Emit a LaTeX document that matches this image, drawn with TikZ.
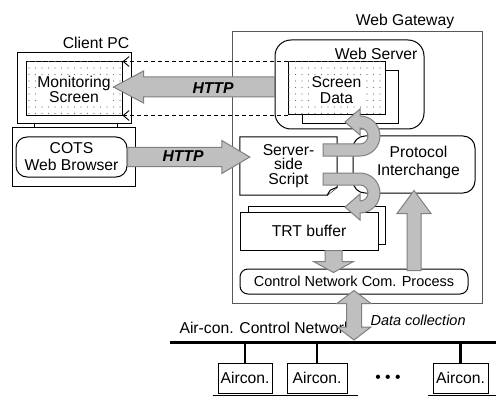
\documentclass[tikz,border=0pt]{standalone}
\usepackage{fontspec}
\setmainfont{Liberation Sans}
\usetikzlibrary{calc,arrows.meta,patterns}

\pgfdeclarepatternformonly{sparsedots}{\pgfqpoint{-1pt}{-1pt}}{\pgfqpoint{7.5pt}{7.5pt}}{\pgfqpoint{6.5pt}{6.5pt}}{%
  \pgfpathcircle{\pgfqpoint{3pt}{3pt}}{0.6pt}\pgfusepath{fill}}

% block arrow: from, to, body half width, head half width, head length
\newcommand{\fatarrow}[5]{%
  \coordinate (fahead) at ($(#2)!#5!(#1)$);
  \draw[fat] ($(#1)!#3!90:(#2)$) -- ($(fahead)!#3!-90:(#1)$) -- ($(fahead)!#4!-90:(#1)$) -- (#2)
    -- ($(fahead)!#4!90:(#1)$) -- ($(fahead)!#3!90:(#1)$) -- ($(#1)!#3!-90:(#2)$) -- cycle;
}
% block arrow with two heads
\newcommand{\fatdouble}[5]{%
  \coordinate (faheadA) at ($(#1)!#5!(#2)$);
  \coordinate (faheadB) at ($(#2)!#5!(#1)$);
  \draw[fat] (#1) -- ($(faheadA)!#4!90:(#2)$) -- ($(faheadA)!#3!90:(#2)$) -- ($(faheadB)!#3!-90:(#1)$)
    -- ($(faheadB)!#4!-90:(#1)$) -- (#2) -- ($(faheadB)!#4!90:(#1)$) -- ($(faheadB)!#3!90:(#1)$)
    -- ($(faheadA)!#3!-90:(#2)$) -- ($(faheadA)!#4!-90:(#2)$) -- cycle;
}

\begin{document}
\begin{tikzpicture}[
    x=1pt, y=-1pt,
    font=\fontsize{15.7}{16}\selectfont,
    box/.style={draw, line width=1pt, fill=white, inner sep=0pt, align=center},
    sized/.style 2 args={minimum width=#1pt, minimum height=#2pt},
    dotfill/.style={postaction={pattern=sparsedots, pattern color=black!55}},
    lbl/.style={fill=white, inner sep=0.6pt, align=center},
    fat/.style={fill=black!25, draw=black!50, line width=1pt},
    dasharrow/.style={line width=0.9pt, dash pattern=on 4pt off 3pt, -{Straight Barb[length=6pt, width=10pt]}},
    http/.style={font=\fontsize{15.7}{16}\selectfont\bfseries\itshape},
    small/.style={font=\fontsize{14.5}{15}\selectfont},
    smallit/.style={font=\fontsize{14.5}{15}\selectfont\itshape}
]
    \useasboundingbox (0,0) rectangle (496,396);

    % gateway frame
    \node[box, sized={250}{271}, draw=black!65] (gateway) at (357,167.5) {};
    \node (gwlabel) at (405,21) {Web Gateway};

    % client pc
    \node (pclabel) at (96,43) {Client PC};
    \node[box, sized={114}{71}] (monitor) at (74,88.5) {};
    \node[box, sized={96}{54}, dotfill] (monscreen) at (74,89) {};
    \node[lbl, font=\fontsize{15.7}{15}\selectfont] (montext) at (74,89.5) {Monitoring\\Screen};
    \node[box, sized={83}{4}] (neck) at (75.5,126) {};
    \node[box, sized={123}{58}] (pcbase) at (73.5,157) {};
    \node[box, sized={111}{40}, rounded corners=11pt, font=\fontsize{15.7}{17}\selectfont] (browser) at (71.5,157) {COTS\\Web Browser};

    % web server
    \node[box, sized={149}{89}, rounded corners=16pt] (webserver) at (349.5,84.5) {};
    \node[anchor=east] (wslabel) at (421,54) {Web Server};
    \node[box, sized={96}{53}] (scrback) at (350,97.5) {};
    \node[box, sized={97}{53}, dotfill] (scrdata) at (336.5,88.5) {};
    \node[lbl] (scrtext) at (336.5,90) {Screen\\Data};

    \draw[dasharrow] (scrdata.north west) -- (scrdata.north west -| monscreen.east);
    \draw[dasharrow] (scrdata.south west) -- (scrdata.south west -| monscreen.east);

    % server-side script
    \node[sized={97}{58}, align=center, font=\fontsize{15.7}{14.2}\selectfont] (script) at (288.5,166) {Server-\\side\\Script};
    \draw[line width=1pt] (script.north west) -- (script.north east) -- ([yshift=8pt]script.south east)
        -- ([xshift=-10pt]script.south east) -- (script.south west) -- cycle;
    \draw[line width=1pt, fill=white, line join=round] ([xshift=-10pt]script.south east)
        -- ([shift={(-7pt,5pt)}]script.south east) -- ([yshift=8pt]script.south east);

    % protocol interchange
    \node[box, sized={122}{57}, rounded corners=12pt] (protocol) at (414,164.5) {};
    \node[font=\fontsize{15.7}{18}\selectfont, align=center] (prottext) at (418.5,162) {Protocol\\Interchange};

    % trt buffer
    \node[box, sized={137}{38}] (trtback) at (316.5,225) {};
    \node[box, sized={138}{38}] (trt) at (309,231) {TRT buffer};

    \node[box, sized={228}{25}, rounded corners=8pt, small] (ctrl) at (354,281.5) {Control Network Com. Process};

    % control network
    \coordinate (netL) at (170,342);
    \coordinate (netR) at (496,342);
    \node[anchor=west] (netlabel) at (176,328) {Air-con. Control Network};
    \draw[line width=3pt] (netL) -- (netR);

    \node[box, sized={54}{30}] (ac1) at (245,378) {Aircon.};
    \node[box, sized={60}{30}] (ac2) at (317,378) {Aircon.};
    \node[box, sized={55}{30}] (ac3) at (460.5,378) {Aircon.};
    \node (acdots) at (388,379) {• • •};

    \draw[line width=2.5pt] (ac1.north) -- (ac1.north |- netL);
    \draw[line width=2.5pt] (ac2.north) -- (ac2.north |- netL);
    \draw[line width=2.5pt] (ac3.north) -- (ac3.north |- netL);
    \draw[line width=1pt] ([shift={(-5pt,-1.5pt)}]ac1.south west) -- ([shift={(10pt,-1.5pt)}]ac1.south east);
    \draw[line width=1pt] ([shift={(-5pt,-1.5pt)}]ac2.south west) -- ([shift={(10pt,-1.5pt)}]ac2.south east);
    \draw[line width=1pt] ([shift={(-5pt,-1.5pt)}]ac3.south west) -- ([shift={(10pt,-1.5pt)}]ac3.south east);

    % HTTP arrows
    \coordinate (srvout) at ([yshift=-2.5pt]webserver.west);
    \coordinate (scrin) at ($(monscreen.east |- srvout)+(-9,0)$);
    \fatarrow{srvout}{scrin}{10pt}{16pt}{30pt}
    \node[http] (httpup) at (213,88) {HTTP};

    \coordinate (scriptin) at ($(script.west |- browser.east)+(10,0)$);
    \fatarrow{browser.east}{scriptin}{9.5pt}{16.5pt}{28pt}
    \node[http] (httpdn) at (183,156) {HTTP};

    % script to screen data / trt buffer
    \draw[fat] (323,144) -- (360,144) arc[start angle=90, end angle=-90, radius=8] -- (360,135) -- (345,122)
        -- (360,109) -- (360,116) arc[start angle=-90, end angle=90, radius=20] -- (323,156) -- cycle;
    \draw[fat] (323,185) -- (360,185) arc[start angle=-90, end angle=90, radius=8] -- (360,194) -- (345,207)
        -- (360,220) -- (360,213) arc[start angle=90, end angle=-90, radius=20] -- (323,173) -- cycle;

    % buffer down, data up
    \coordinate (trtout) at ($(trt.south)+(24.5,0)$);
    \coordinate (ctrlin) at ($(trtout |- ctrl.north)+(0,4)$);
    \fatarrow{trtout}{ctrlin}{8.5pt}{20pt}{11pt}

    \coordinate (ctrlout) at ($(protocol.south |- ctrl.north)+(0,2)$);
    \coordinate (protin) at ($(protocol.south)+(0,-3)$);
    \fatarrow{ctrlout}{protin}{7pt}{17pt}{23pt}

    % data collection
    \coordinate (dctop) at ($(ctrl.south)+(0,-4)$);
    \coordinate (dcbot) at ($(ctrl.south |- netL)+(0,-2)$);
    \fatdouble{dctop}{dcbot}{7.5pt}{17pt}{13pt}
    \node[anchor=west, smallit] (dclabel) at (367,320) {Data collection};
\end{tikzpicture}
\end{document}
